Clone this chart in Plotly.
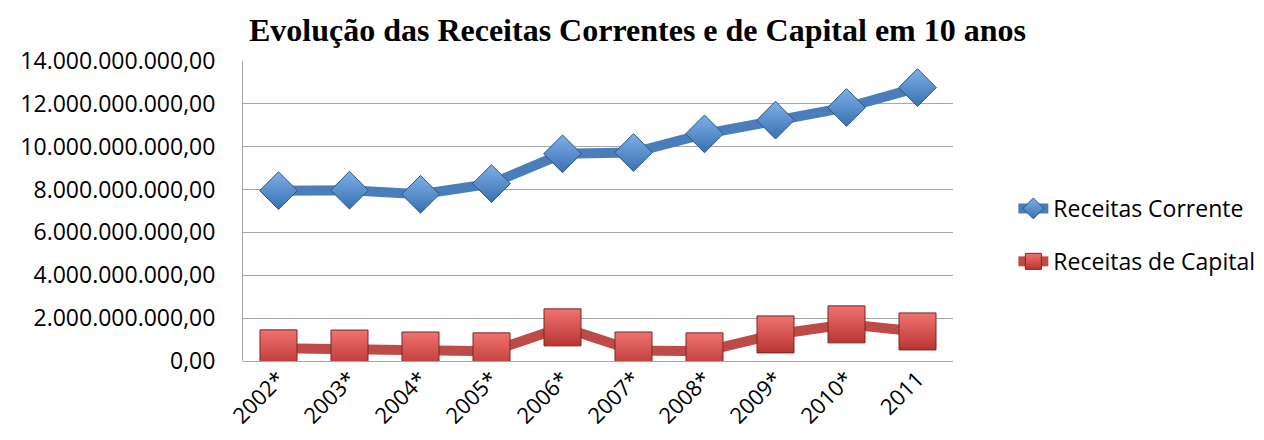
import plotly.graph_objects as go

anos = ["2002*", "2003*", "2004*", "2005*", "2006*", "2007*", "2008*", "2009*", "2010*", "2011"]
receitas_correntes = [7.95e9, 7.97e9, 7.78e9, 8.28e9, 9.67e9, 9.73e9, 10.6e9, 11.24e9, 11.83e9, 12.76e9]
receitas_capital = [0.59e9, 0.58e9, 0.49e9, 0.45e9, 1.57e9, 0.49e9, 0.45e9, 1.24e9, 1.71e9, 1.38e9]
y_ticks = [0, 2e9, 4e9, 6e9, 8e9, 10e9, 12e9, 14e9]

font_txt = "Open Sans"

fig = go.Figure()

fig.add_trace(go.Scatter(
    x=anos, y=receitas_correntes, name="Receitas Corrente",
    mode="lines+markers", legendgroup="a",
    line=dict(color="#4a7ebb", width=10),
    marker=dict(symbol="diamond", size=29, color="#7db0ea",
                gradient=dict(type="vertical", color="#3a70b0"),
                line=dict(color="#2a5580", width=1)),
))
fig.add_trace(go.Scatter(
    x=anos, y=receitas_capital, name="Receitas de Capital",
    mode="lines+markers", legendgroup="b",
    line=dict(color="#be4b48", width=10),
    marker=dict(symbol="square", size=37, color="#f07370",
                gradient=dict(type="vertical", color="#b83532"),
                line=dict(color="#7a2523", width=1)),
))

# the page body adds an 8 px offset, so margins are shifted by that much
fig.update_layout(
    width=1264, height=440,
    paper_bgcolor="white", plot_bgcolor="white",
    separators=",.",
    margin=dict(l=230, r=317, t=53, b=87),
    title=dict(text="<b>Evolução das Receitas Correntes e de Capital em 10 anos</b>",
               x=0.498, xanchor="center", y=0.95, yanchor="middle",
               font=dict(family="Liberation Serif", size=32, color="black")),
    font=dict(family=font_txt, size=23, color="black"),
    legend=dict(x=1.085, xanchor="left", y=0.42, yanchor="middle",
                tracegroupgap=20, font=dict(size=23),
                bgcolor="rgba(0,0,0,0)"),
    xaxis=dict(type="category", tickangle=-45, showgrid=False,
               showline=False, ticks="", tickfont=dict(size=22),
               range=[-0.5, 9.5]),
    yaxis=dict(range=[0, 14e9], tickvals=y_ticks, tickformat=",.2f",
               showgrid=True, gridcolor="#a6a6a6", gridwidth=1,
               showline=True, linecolor="#a6a6a6", linewidth=1,
               ticks="", ticklabelstandoff=22,
               zeroline=True, zerolinecolor="#a6a6a6", zerolinewidth=1,
               tickfont=dict(size=23)),
)

fig.write_html("out.html")
